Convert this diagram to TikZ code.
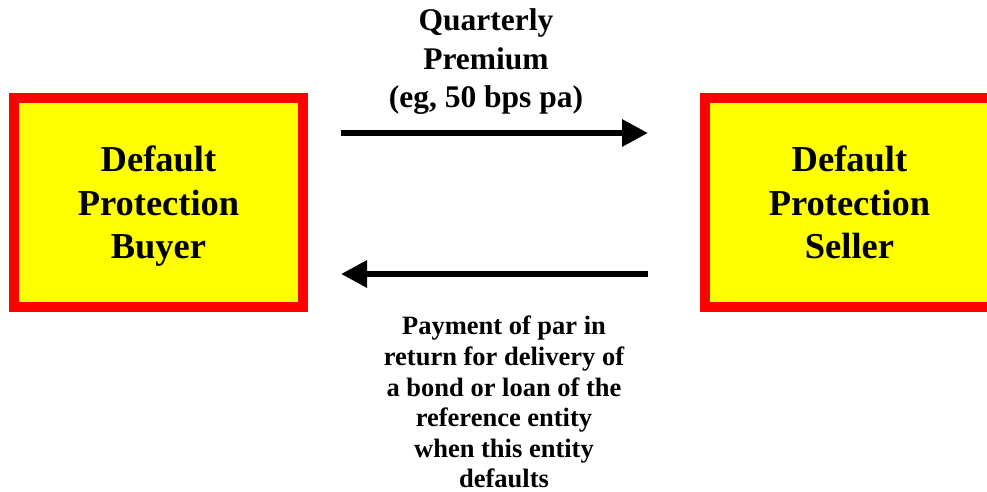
\documentclass[tikz,border=0pt]{standalone}
\usepackage{fontspec}
\setmainfont{Liberation Serif}
\usetikzlibrary{arrows.meta, positioning}
\definecolor{boxred}{RGB}{255,0,0}
\definecolor{boxyellow}{RGB}{255,255,0}

\begin{document}
\begin{tikzpicture}[
    x=1pt, y=-1pt,
    box/.style={draw=boxred, fill=boxyellow, line width=10pt, align=center,
                minimum width=289pt, minimum height=209pt, inner sep=0pt,
                text depth=0pt,
                font=\fontsize{36.5}{43.5}\selectfont\bfseries},
    flow/.style={line width=6pt, -{Triangle[length=26pt, width=26pt]}},
    lbl/.style={align=center, inner sep=0pt}]
  \useasboundingbox (0,0) rectangle (987,492);
  \node[box] (buyer) at (158.5,202.5) {Default\\ Protection\\ Buyer};
  \node[box] (seller) at (849.5,202.5) {Default\\ Protection\\ Seller};
  \coordinate (pay1) at (341,133);
  \coordinate (pay2) at (648,133);
  \coordinate (def1) at (648,274);
  \coordinate (def2) at (341,274);
  \draw[flow] (pay1) -- (pay2);
  \draw[flow] (def1) -- (def2);
  \node[lbl, font=\fontsize{31.5}{38.5}\selectfont\bfseries] (prem) at (486,62)
        {Quarterly\\ Premium\\ (eg, 50 bps pa)};
  \node[lbl, font=\fontsize{26.5}{30.6}\selectfont\bfseries, anchor=north] (prot) at (504,316)
        {Payment of par in\\ return for delivery of\\ a bond or loan of the\\
         reference entity\\ when this entity\\ defaults};
\end{tikzpicture}
\end{document}
